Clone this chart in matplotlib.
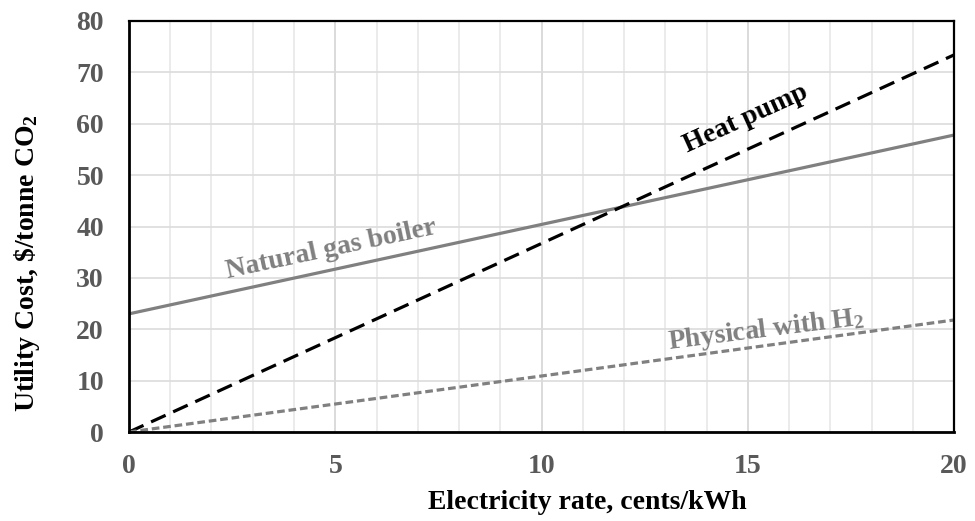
import matplotlib
matplotlib.use('Agg')
import matplotlib.pyplot as plt
from matplotlib.ticker import MultipleLocator

# ---------- fonts ----------
plt.rcParams['font.family'] = ['Liberation Serif', 'DejaVu Serif']
plt.rcParams['font.weight'] = 'bold'
plt.rcParams['mathtext.fontset'] = 'custom'
plt.rcParams['mathtext.rm'] = 'Liberation Serif:bold'
plt.rcParams['mathtext.it'] = 'Liberation Serif:bold'
plt.rcParams['mathtext.bf'] = 'Liberation Serif:bold'

# ---------- data ----------
rate = [0, 5, 10, 15, 20]                      # cents/kWh
gas_boiler = [23.0, 31.7, 40.4, 49.1, 57.8]
heat_pump = [0.0, 18.35, 36.7, 55.05, 73.4]
physical_h2 = [0.0, 5.45, 10.9, 16.35, 21.8]

x_ticks = [0, 5, 10, 15, 20]
y_ticks = [0, 10, 20, 30, 40, 50, 60, 70, 80]

# ---------- figure ----------
fig = plt.figure(figsize=(9.75, 5.21), dpi=100)
ax = fig.add_axes([0.1323, 0.1708, 0.8462, 0.7889])

ax.plot(rate, gas_boiler, color='#808080', lw=2.3, solid_capstyle='butt')
ax.plot(rate, heat_pump, color='black', lw=2.3, dashes=(5, 2.6))
ax.plot(rate, physical_h2, color='#808080', lw=2.3, dashes=(2.4, 1.2))

ax.set_xlim(0, 20)
ax.set_ylim(0, 80)
ax.set_xticks(x_ticks)
ax.set_yticks(y_ticks)
ax.xaxis.set_minor_locator(MultipleLocator(1))

ax.grid(which='major', axis='x', color='#d4d4d4', lw=1.2)
ax.grid(which='minor', axis='x', color='#e8e8e8', lw=1.2)
ax.grid(which='major', axis='y', color='#dcdcdc', lw=1.2)
ax.set_axisbelow(True)

ax.tick_params(which='both', length=0)
ax.tick_params(axis='x', pad=16, labelsize=20, labelcolor='#595959')
ax.tick_params(axis='y', pad=18, labelsize=20, labelcolor='#595959')

for s in ax.spines.values():
    s.set_color('black')
    s.set_linewidth(1.6)
ax.spines['left'].set_linewidth(2)
ax.spines['bottom'].set_linewidth(2)

ax.set_xlabel('Electricity rate, cents/kWh', fontsize=20, fontweight='bold')
ax.xaxis.set_label_coords(0.555, -0.14)
ax.set_ylabel('Utility Cost, \\$/tonne CO$_2$', fontsize=20, fontweight='bold',
              va='center')
ax.yaxis.set_label_coords(-0.124, 0.41)

# ---------- line labels ----------
ax.text(4.9, 35.6, 'Natural gas boiler', color='#808080', fontsize=20,
        fontweight='bold', rotation=12, ha='center', va='center',
        rotation_mode='anchor')
ax.text(14.95, 61.0, 'Heat pump', color='black', fontsize=20,
        fontweight='bold', rotation=24.5, ha='center', va='center',
        rotation_mode='anchor')
ax.text(15.45, 19.9, 'Physical with H$_2$', color='#808080', fontsize=20,
        fontweight='bold', rotation=7.2, ha='center', va='center',
        rotation_mode='anchor')

fig.savefig('out.png', dpi=100)
